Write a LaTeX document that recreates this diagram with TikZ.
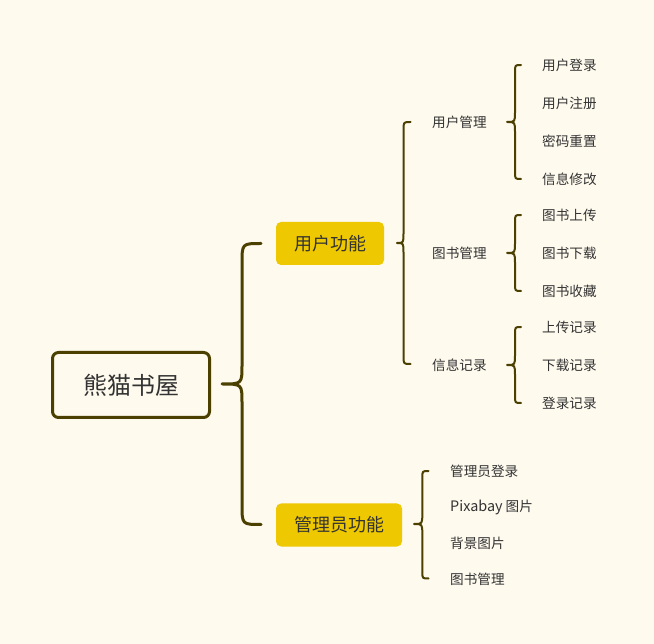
\documentclass[tikz,border=0pt]{standalone}
\usepackage{fontspec}
\setmainfont{Noto Sans CJK SC}
\definecolor{bgc}{HTML}{FEFAEE}
\definecolor{linec}{HTML}{4B4000}
\definecolor{goldc}{HTML}{EEC800}
\definecolor{txtc}{HTML}{333333}
\newcommand\bracketpath[9]{% style tipx vx endx top tipy bottom rc rt
  \draw[#1] (#4,#5) .. controls (#3,#5) .. (#3,#5+#8) -- (#3,#6-#9)
    .. controls (#3,#6) .. (#2,#6) .. controls (#3,#6) .. (#3,#6+#9)
    -- (#3,#7-#8) .. controls (#3,#7) .. (#4,#7);}
\begin{document}
\begin{tikzpicture}[x=1pt,y=-1pt,
  bigbrace/.style={draw=linec,line width=3pt,line cap=round,line join=round},
  smallbrace/.style={draw=linec,line width=2pt,line cap=round,line join=round},
  rootbox/.style={draw=linec,line width=3pt,rounded corners=6pt,fill=bgc,
    minimum width=157pt,minimum height=65pt,font=\fontsize{24}{28}\selectfont,text=txtc},
  mainbox/.style={fill=goldc,rounded corners=5pt,minimum height=43pt,
    font=\fontsize{18}{22}\selectfont,text=txtc,inner sep=0pt},
  sublabel/.style={anchor=west,inner sep=0pt,font=\fontsize{13.6}{16}\selectfont,text=txtc},
  leaf/.style={anchor=west,inner sep=0pt,font=\fontsize{13.6}{16}\selectfont,text=txtc}]
\fill[bgc] (0,0) rectangle (654,644);
\useasboundingbox (0,0) rectangle (654,644);

\node[rootbox] (root) at (131,385) {熊猫书屋};
\node[mainbox,minimum width=108pt] (user) at (330,243.5) {用户功能};
\node[mainbox,minimum width=126pt] (admin) at (339,525) {管理员功能};

\node[sublabel] (um) at (432,122) {用户管理};
\node[sublabel] (bm) at (432,253) {图书管理};
\node[sublabel] (ir) at (432,365) {信息记录};

\node[leaf] (l1) at (542,65) {用户登录};
\node[leaf] (l2) at (542,103) {用户注册};
\node[leaf] (l3) at (542,141) {密码重置};
\node[leaf] (l4) at (542,179) {信息修改};
\node[leaf] (l5) at (542,215) {图书上传};
\node[leaf] (l6) at (542,253) {图书下载};
\node[leaf] (l7) at (542,291) {图书收藏};
\node[leaf] (l8) at (542,327) {上传记录};
\node[leaf] (l9) at (542,365) {下载记录};
\node[leaf] (l10) at (542,403) {登录记录};

\node[leaf] (a1) at (450,471) {管理员登录};
\node[leaf] (a2) at (450,507) {{\fontsize{14.4}{16}\selectfont Pixabay} 图片};
\node[leaf] (a3) at (450,543) {背景图片};
\node[leaf] (a4) at (450,579) {图书管理};

% braces
\bracketpath{bigbrace}{222}{242}{261}{243.5}{384}{524.5}{20}{19}
\bracketpath{smallbrace}{397}{403.5}{410.5}{122}{243}{364}{8}{10}
\bracketpath{smallbrace}{507}{515}{521}{65}{122}{179}{7}{10}
\bracketpath{smallbrace}{507}{515}{521}{215}{253}{291}{7}{10}
\bracketpath{smallbrace}{507}{515}{521}{327}{365}{403}{7}{10}
\bracketpath{smallbrace}{414}{422.3}{428.5}{471}{524}{578.5}{7}{10}
\end{tikzpicture}
\end{document}
